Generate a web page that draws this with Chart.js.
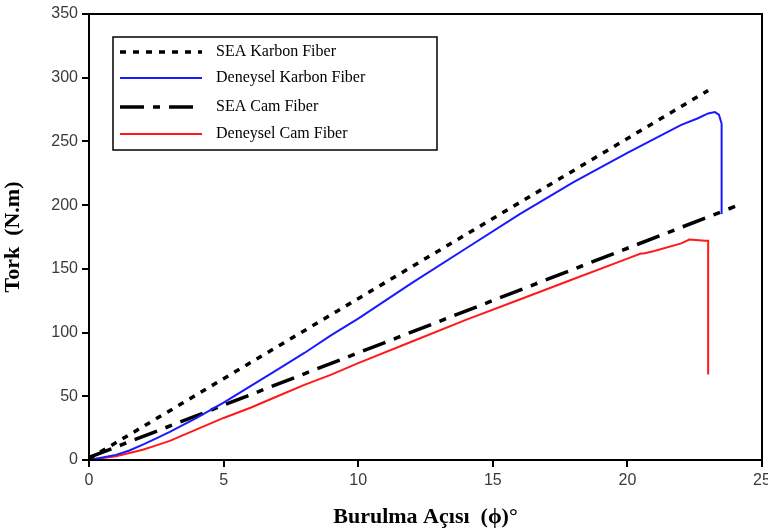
<!DOCTYPE html>
<html>
<head>
<meta charset="utf-8">
<script src="https://cdn.jsdelivr.net/npm/chart.js@4.4.1/dist/chart.umd.min.js"></script>
<style>
  html, body { margin: 0; padding: 0; background: #fff; }
  #wrap { width: 768px; height: 531px; }
</style>
</head>
<body>
<div id="wrap"><canvas id="chart" width="768" height="531"></canvas></div>
<script>
// eksen ve seri verileri
const xTicks = [0, 5, 10, 15, 20, 25];
const yTicks = [0, 50, 100, 150, 200, 250, 300, 350];

const seriesLabels = ['SEA Karbon Fiber', 'Deneysel Karbon Fiber', 'SEA Cam Fiber', 'Deneysel Cam Fiber'];

const seaKarbonX = [0, 23.0];
const seaKarbonY = [1, 290];

const denKarbonX = [0, 0.5, 1, 1.5, 2, 2.5, 3, 3.5, 4, 5, 6, 7, 8, 9, 10, 12, 14, 16, 18, 20, 21, 22, 22.6, 23.0, 23.25, 23.4, 23.5, 23.5];
const denKarbonY = [0, 2, 4, 7.5, 12, 17, 22, 27.5, 33, 45, 58, 71, 84, 98, 111, 139, 166, 193, 218, 241, 252, 263, 268, 272, 273, 271, 264, 193];

const seaCamX = [0, 24.0];
const seaCamY = [2, 199];

const denCamX = [0, 0.5, 1, 1.5, 2, 2.5, 3, 3.5, 4, 5, 6, 7, 8, 9, 10, 12, 14, 16, 18, 20, 20.5, 20.6, 21, 22, 22.3, 22.9, 23.0, 23.0];
const denCamY = [0, 1.5, 3, 5.5, 8, 11.5, 15, 19.5, 24, 33, 41, 50, 59, 67, 76, 93, 110, 126, 142, 158, 162, 162, 164, 170, 173, 172, 172, 67];

function toPoints(xs, ys) {
    return xs.map((x, i) => ({ x: x, y: ys[i] }));
}

// çerçeve ve grafik içi lejant
const framePlugin = {
    id: 'frame',
    afterDraw(chart) {
        const ctx = chart.ctx;
        const a = chart.chartArea;
        ctx.save();
        ctx.strokeStyle = '#000';
        ctx.lineWidth = 2;
        ctx.strokeRect(a.left, a.top, a.right - a.left, a.bottom - a.top);

        // lejant kutusu
        const bx = 113, by = 37, bw = 324, bh = 113;
        ctx.lineWidth = 1.5;
        ctx.strokeRect(bx, by, bw, bh);
        const rows = [52, 78, 107, 134];
        ctx.font = '16px "Liberation Serif", "Times New Roman", serif';
        ctx.fillStyle = '#000';
        ctx.textBaseline = 'middle';
        chart.data.datasets.forEach((ds, i) => {
            const y = rows[i];
            ctx.beginPath();
            ctx.strokeStyle = ds.borderColor;
            ctx.lineWidth = ds.borderWidth;
            ctx.setLineDash(ds.borderDash || []);
            ctx.moveTo(120, y);
            ctx.lineTo(202, y);
            ctx.stroke();
            ctx.setLineDash([]);
            ctx.fillText(ds.label, 216, y);
        });
        ctx.restore();
    }
};

const ctx = document.getElementById('chart').getContext('2d');
const chart = new Chart(ctx, {
    type: 'line',
    data: {
        datasets: [
            {
                label: seriesLabels[0],
                data: toPoints(seaKarbonX, seaKarbonY),
                borderColor: '#000',
                borderWidth: 3.5,
                borderDash: [6, 7],
                pointRadius: 0
            },
            {
                label: seriesLabels[1],
                data: toPoints(denKarbonX, denKarbonY),
                borderColor: '#1a1aff',
                borderWidth: 2,
                pointRadius: 0
            },
            {
                label: seriesLabels[2],
                data: toPoints(seaCamX, seaCamY),
                borderColor: '#000',
                borderWidth: 3.5,
                borderDash: [24, 9, 7, 9],
                pointRadius: 0
            },
            {
                label: seriesLabels[3],
                data: toPoints(denCamX, denCamY),
                borderColor: '#ff1a1a',
                borderWidth: 2,
                pointRadius: 0
            }
        ]
    },
    options: {
        responsive: false,
        animation: false,
        layout: { padding: { top: 14, right: 6, left: 0, bottom: 0 } },
        plugins: {
            legend: { display: false },
            tooltip: { enabled: false }
        },
        scales: {
            x: {
                type: 'linear',
                min: 0,
                max: 25,
                afterBuildTicks: (s) => { s.ticks = xTicks.map(v => ({ value: v })); },
                afterFit: (s) => { s.height = 71; s.paddingLeft = 0; s.paddingRight = 0; },
                border: { color: '#000', width: 2 },
                grid: { drawOnChartArea: false, drawTicks: true, tickLength: 7, color: '#000', lineWidth: 2 },
                ticks: {
                    color: '#3a3a3a',
                    font: { family: '"Liberation Sans", Arial, sans-serif', size: 16 },
                    padding: 4,
                    maxRotation: 0
                },
                title: {
                    display: true,
                    text: 'Burulma Açısı  (ϕ)°',
                    color: '#000',
                    font: { family: '"Liberation Serif", "Times New Roman", serif', size: 22, weight: 'bold' },
                    padding: { top: 4, bottom: 0 }
                }
            },
            y: {
                min: 0,
                max: 350,
                afterBuildTicks: (s) => { s.ticks = yTicks.map(v => ({ value: v })); },
                afterFit: (s) => { s.width = 89; },
                border: { color: '#000', width: 2 },
                grid: { drawOnChartArea: false, drawTicks: true, tickLength: 7, color: '#000', lineWidth: 2 },
                ticks: {
                    color: '#3a3a3a',
                    font: { family: '"Liberation Sans", Arial, sans-serif', size: 16 },
                    padding: 4
                },
                title: {
                    display: true,
                    text: 'Tork  (N.m)',
                    color: '#000',
                    font: { family: '"Liberation Serif", "Times New Roman", serif', size: 22, weight: 'bold' },
                    padding: { top: 0, bottom: 4 }
                }
            }
        }
    },
    plugins: [framePlugin]
});
</script>
</body>
</html>
